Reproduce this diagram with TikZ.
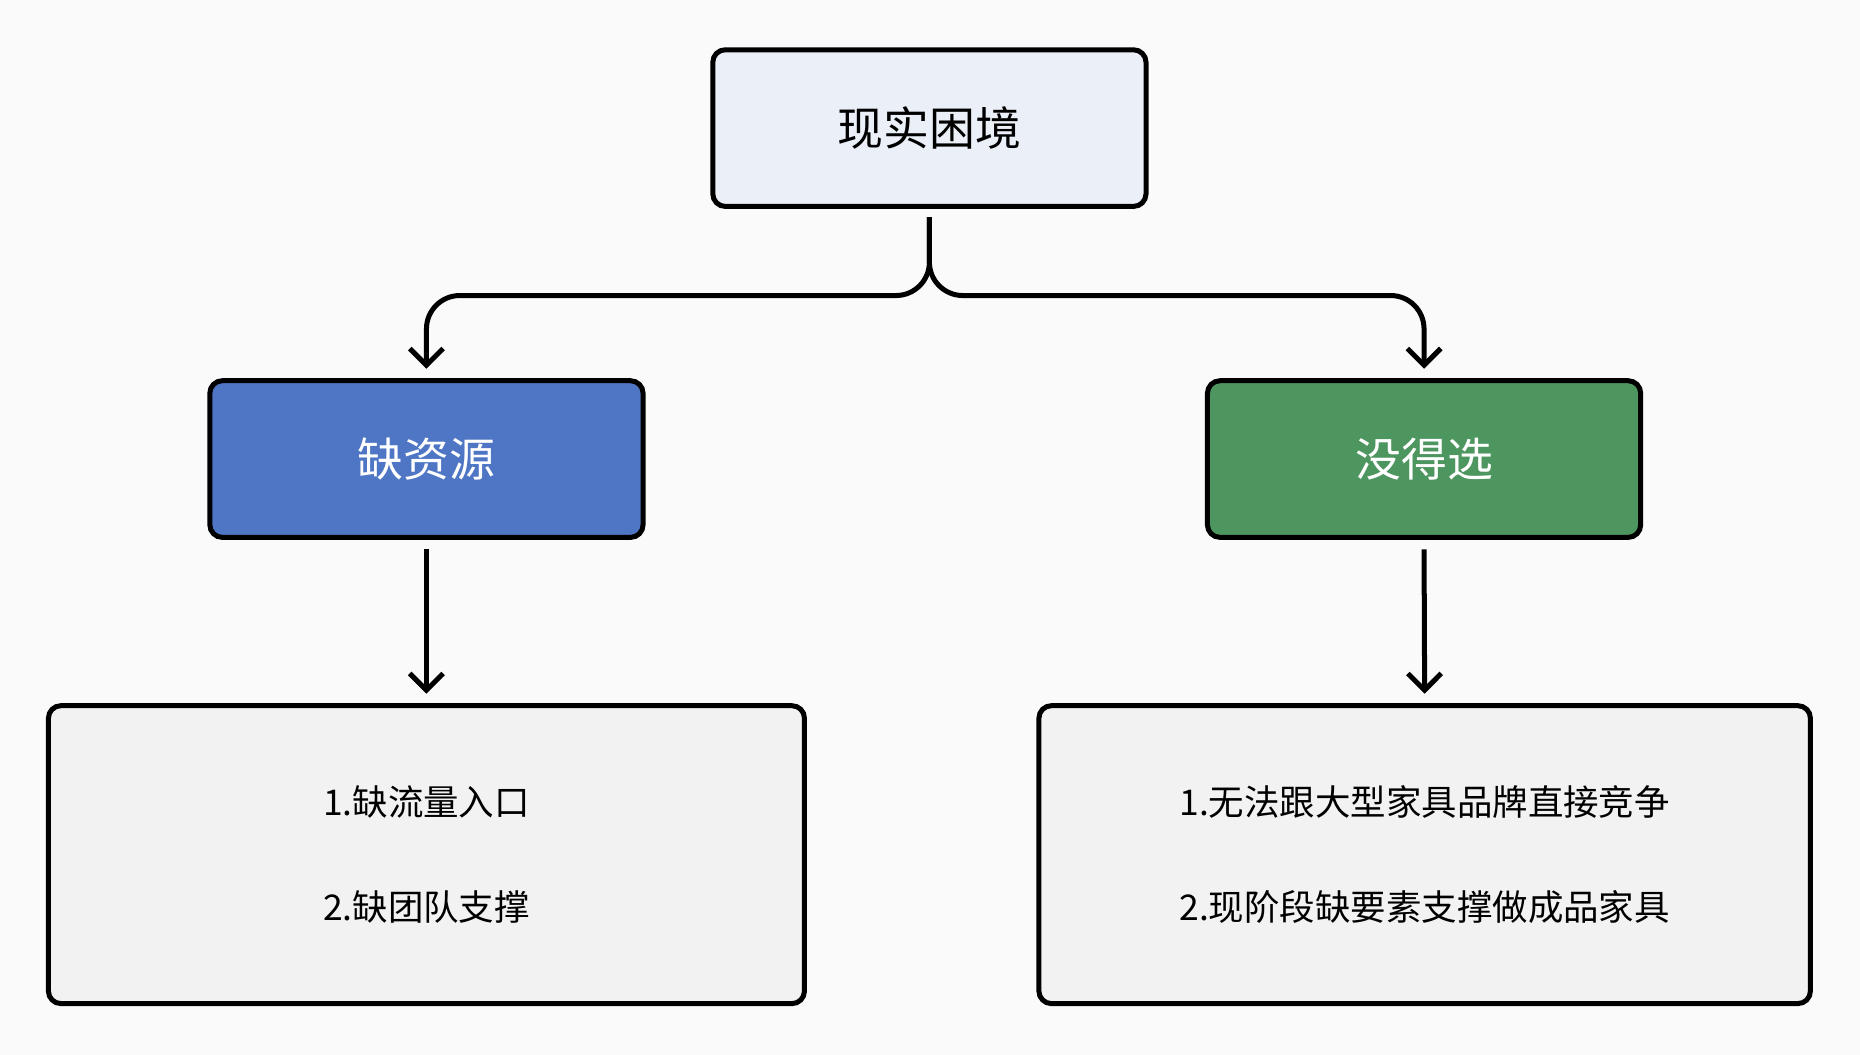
\documentclass[tikz,border=0pt]{standalone}
\usepackage{fontspec}
\setmainfont{Noto Sans CJK SC}
\usetikzlibrary{arrows.meta}
\definecolor{pagebg}{HTML}{FAFAFA}
\definecolor{topfill}{HTML}{EBF0F8}
\definecolor{bluefill}{HTML}{4E76C4}
\definecolor{greenfill}{HTML}{4E9660}
\definecolor{greyfill}{HTML}{F2F2F2}
\tikzset{probbox/.style={draw=black,line width=1.2pt,rounded corners=3pt,font=\fontsize{11}{13}\selectfont},
         probarrow/.style={line width=1.2pt,-{Straight Barb[length=4pt,width=8pt]},rounded corners=8pt}}
\begin{document}
\begin{tikzpicture}[x=0.01cm,y=-0.01cm]
\fill[pagebg] (0,0) rectangle (1568,889);
\node[probbox,fill=topfill,minimum width=3.65cm,minimum height=1.32cm] (top) at (783.5,108) {现实困境};
\node[probbox,fill=bluefill,text=white,minimum width=3.65cm,minimum height=1.32cm] (res) at (359.5,387) {缺资源};
\node[probbox,fill=greenfill,text=white,minimum width=3.65cm,minimum height=1.32cm] (sel) at (1200.5,387) {没得选};
\node[probbox,fill=greyfill,minimum width=6.37cm,minimum height=2.51cm,align=center,font=\fontsize{8.5}{25}\selectfont] (resl) at (359.5,720.5) {1.缺流量入口\\2.缺团队支撑};
\node[probbox,fill=greyfill,minimum width=6.50cm,minimum height=2.51cm,align=center,font=\fontsize{8.5}{25}\selectfont] (sell) at (1201,720.5) {1.无法跟大型家具品牌直接竞争\\2.现阶段缺要素支撑做成品家具};
\draw[probarrow] ([yshift=-0.07cm]top.south) -- ++(0,66) -| ([yshift=0.08cm]res.north);
\draw[probarrow] ([yshift=-0.07cm]top.south) -- ++(0,66) -| ([yshift=0.08cm]sel.north);
\draw[probarrow] ([yshift=-0.08cm]res.south) -- ([yshift=0.08cm]resl.north);
\draw[probarrow] ([yshift=-0.08cm]sel.south) -- ([yshift=0.08cm]sell.north);
\end{tikzpicture}
\end{document}
